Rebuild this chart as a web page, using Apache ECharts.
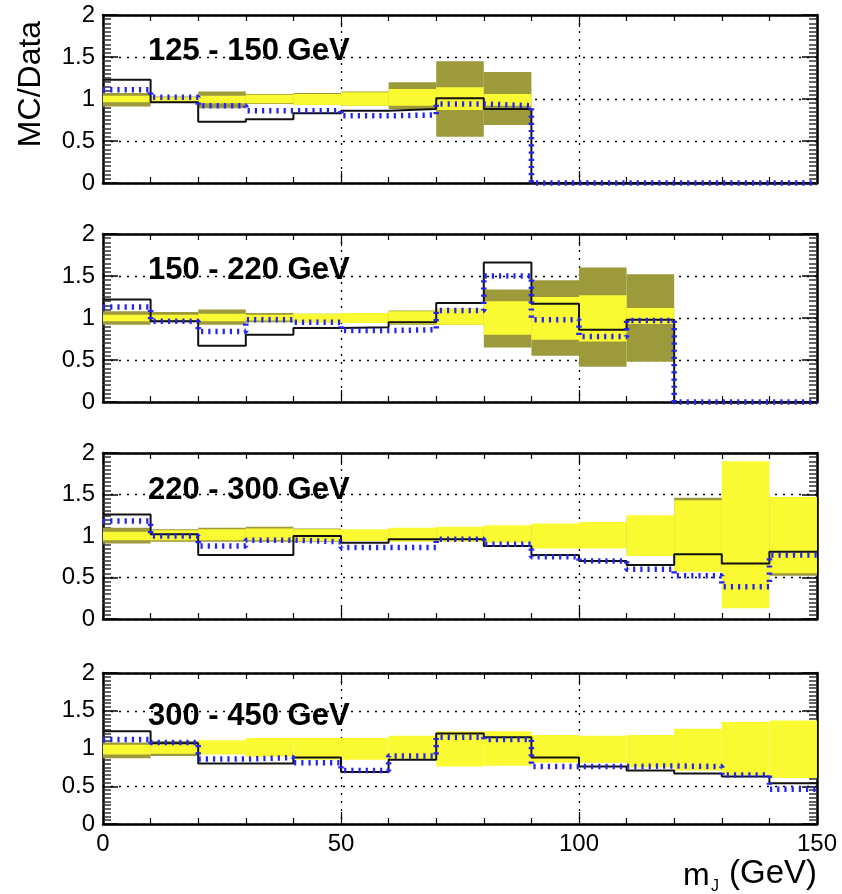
<!DOCTYPE html>
<html><head><meta charset="utf-8">
<script src="https://cdn.jsdelivr.net/npm/echarts@6/dist/echarts.min.js"></script>
<style>html,body{margin:0;padding:0;background:#fff}#c{width:842px;height:894px}</style>
</head><body><div id="c"></div>
<script>
// ---- data ----
const binEdges = [0,10,20,30,40,50,60,70,80,90,100,110,120,130,140,150];
const panelLabels = ['125 - 150 GeV', '150 - 220 GeV', '220 - 300 GeV', '300 - 450 GeV'];
const yAxisTitle = 'MC/Data';
const xAxisTitle = ['m', 'J', '(GeV)'];

// panel 1 : 125 - 150 GeV
const solidP1   = [1.23, 0.96, 0.73, 0.76, 0.83, 0.86, 0.88, 1.01, 0.88, 0, 0, 0, 0, 0, 0];
const dottedP1  = [1.11, 1.02, 0.92, 0.86, 0.86, 0.80, 0.81, 0.94, 0.92, 0, 0, 0, 0, 0, 0];
const innerLoP1 = [0.96, 0.97, 0.95, 0.95, 0.93, 0.92, 0.92, 0.87, 0.92, null, null, null, null, null, null];
const innerHiP1 = [1.04, 1.02, 1.04, 1.05, 1.06, 1.08, 1.12, 1.14, 1.06, null, null, null, null, null, null];
const outerLoP1 = [0.91, 0.96, 0.89, 0.94, 0.93, 0.92, 0.88, 0.55, 0.69, null, null, null, null, null, null];
const outerHiP1 = [1.07, 1.03, 1.09, 1.06, 1.07, 1.09, 1.20, 1.45, 1.32, null, null, null, null, null, null];

// panel 2 : 150 - 220 GeV
const solidP2   = [1.22, 0.96, 0.67, 0.80, 0.88, 0.89, 0.95, 1.18, 1.66, 1.17, 0.86, 0.98, 0, 0, 0];
const dottedP2  = [1.13, 0.96, 0.84, 0.98, 0.95, 0.85, 0.86, 1.09, 1.50, 0.98, 0.78, 0.97, 0, 0, 0];
const innerLoP2 = [0.96, 0.97, 0.96, 0.97, 0.95, 0.94, 0.93, 0.92, 0.80, 0.74, 0.72, 0.93, null, null, null];
const innerHiP2 = [1.04, 1.04, 1.05, 1.04, 1.05, 1.06, 1.08, 1.11, 1.20, 1.25, 1.27, 1.12, null, null, null];
const outerLoP2 = [0.92, 0.95, 0.92, 0.95, 0.95, 0.94, 0.92, 0.92, 0.65, 0.55, 0.42, 0.48, null, null, null];
const outerHiP2 = [1.08, 1.07, 1.10, 1.06, 1.05, 1.06, 1.09, 1.11, 1.34, 1.45, 1.60, 1.52, null, null, null];

// panel 3 : 220 - 300 GeV
const solidP3   = [1.26, 1.02, 0.77, 0.77, 1.00, 0.92, 0.96, 0.96, 0.88, 0.77, 0.70, 0.65, 0.78, 0.67, 0.81];
const dottedP3  = [1.18, 1.00, 0.88, 0.95, 0.93, 0.86, 0.86, 0.96, 0.90, 0.75, 0.70, 0.60, 0.52, 0.39, 0.77];
const innerLoP3 = [0.95, 0.95, 0.95, 0.95, 0.94, 0.94, 0.93, 0.93, 0.92, 0.85, 0.85, 0.76, 0.57, 0.13, 0.55];
const innerHiP3 = [1.05, 1.07, 1.08, 1.09, 1.08, 1.08, 1.10, 1.11, 1.13, 1.15, 1.17, 1.25, 1.43, 1.90, 1.47];
const outerLoP3 = [0.91, 0.93, 0.93, 0.93, 0.93, 0.94, 0.94, 0.94, 0.93, 0.86, 0.86, 0.77, 0.58, 0.50, 0.52];
const outerHiP3 = [1.10, 1.08, 1.10, 1.11, 1.09, 1.07, 1.09, 1.10, 1.12, 1.14, 1.16, 1.24, 1.46, 1.50, 1.45];

// panel 4 : 300 - 450 GeV
const solidP4   = [1.23, 1.07, 0.80, 0.80, 0.88, 0.69, 0.85, 1.20, 1.15, 0.88, 0.76, 0.71, 0.67, 0.63, 0.54];
const dottedP4  = [1.12, 1.08, 0.86, 0.88, 0.81, 0.71, 0.90, 1.15, 1.12, 0.76, 0.76, 0.77, 0.76, 0.65, 0.46];
const innerLoP4 = [0.92, 0.93, 0.92, 0.89, 0.85, 0.85, 0.85, 0.76, 0.77, 0.81, 0.81, 0.75, 0.71, 0.65, 0.61];
const innerHiP4 = [1.05, 1.07, 1.11, 1.14, 1.14, 1.14, 1.17, 1.23, 1.23, 1.18, 1.17, 1.18, 1.26, 1.35, 1.37];
const outerLoP4 = [0.87, 0.90, null, null, null, null, null, null, null, null, null, null, null, null, null];
const outerHiP4 = [1.08, 1.10, null, null, null, null, null, null, null, null, null, null, null, null, null];

// ---- chart ----
const FONT = '"Liberation Sans", Arial, Helvetica, sans-serif';
const YELLOW = '#fafa33';
const OLIVE = '#9d9a3c';
const panels = [
  {solid: solidP1, dotted: dottedP1, iLo: innerLoP1, iHi: innerHiP1, oLo: outerLoP1, oHi: outerHiP1, top: 15, height: 168, labelY: 51},
  {solid: solidP2, dotted: dottedP2, iLo: innerLoP2, iHi: innerHiP2, oLo: outerLoP2, oHi: outerHiP2, top: 234, height: 168, labelY: 270},
  {solid: solidP3, dotted: dottedP3, iLo: innerLoP3, iHi: innerHiP3, oLo: outerLoP3, oHi: outerHiP3, top: 453, height: 166, labelY: 490},
  {solid: solidP4, dotted: dottedP4, iLo: innerLoP4, iHi: innerHiP4, oLo: outerLoP4, oHi: outerHiP4, top: 673, height: 151, labelY: 716}
];

function stepData(v) {
  const d = v.map((y, i) => [binEdges[i], y]);
  d.push([binEdges[binEdges.length - 1], v[v.length - 1]]);
  return d;
}
function bandData(lo, hi) {
  const d = [];
  for (let i = 0; i < lo.length; i++) {
    if (lo[i] != null && hi[i] != null) d.push([binEdges[i], binEdges[i + 1], lo[i], hi[i]]);
  }
  return d;
}
function bandSeries(k, lo, hi, color, z) {
  return {
    type: 'custom', xAxisIndex: 2 * k, yAxisIndex: 2 * k, silent: true, z: z,
    encode: {x: [0, 1], y: [2, 3]},
    data: bandData(lo, hi),
    renderItem: function (params, api) {
      const a = api.coord([api.value(0), api.value(3)]);
      const b = api.coord([api.value(1), api.value(2)]);
      return {type: 'rect', shape: {x: a[0], y: a[1], width: b[0] - a[0], height: b[1] - a[1]}, style: {fill: color}};
    }
  };
}

const grid = [], xAxis = [], yAxis = [], series = [], graphic = [];
const gridLine = {show: true, lineStyle: {color: '#000', width: 1.3, type: [2, 6]}};
const frameLine = {show: true, onZero: false, lineStyle: {color: '#000', width: 2.5}};

panels.forEach((p, k) => {
  grid.push({left: 103, top: p.top, width: 714, height: p.height});
  const last = k === panels.length - 1;
  const xBase = {
    type: 'value', gridIndex: k, min: 0, max: 150, interval: 50,
    axisLine: frameLine,
    axisTick: {show: true, inside: true, length: 12, lineStyle: {color: '#000', width: 1.2}},
    minorTick: {show: true, splitNumber: 5, length: 6, lineStyle: {color: '#000', width: 1.2}}
  };
  xAxis.push(Object.assign({}, xBase, {position: 'bottom', splitLine: gridLine,
    axisLabel: {show: last, fontSize: 24, color: '#000', fontFamily: FONT, margin: 8}}));
  xAxis.push(Object.assign({}, xBase, {position: 'top', splitLine: {show: false}, axisLabel: {show: false}}));
  const yBase = {
    type: 'value', gridIndex: k, min: 0, max: 2, interval: 0.5,
    axisLine: frameLine,
    axisTick: {show: true, inside: true, length: 15, lineStyle: {color: '#000', width: 1.5}},
    minorTick: {show: true, splitNumber: 10, length: 8, lineStyle: {color: '#333', width: 1.5}}
  };
  yAxis.push(Object.assign({}, yBase, {position: 'left', splitLine: gridLine,
    axisLabel: {show: true, fontSize: 24, color: '#000', fontFamily: FONT, margin: 8}}));
  yAxis.push(Object.assign({}, yBase, {position: 'right', splitLine: {show: false}, axisLabel: {show: false}}));

  series.push(bandSeries(k, p.oLo, p.oHi, OLIVE, 1));
  series.push(bandSeries(k, p.iLo, p.iHi, YELLOW, 2));
  series.push({type: 'line', xAxisIndex: 2 * k, yAxisIndex: 2 * k, step: 'end', symbol: 'none', clip: false, silent: true, z: 3,
    data: stepData(p.solid), lineStyle: {color: '#111', width: 2}});
  series.push({type: 'line', xAxisIndex: 2 * k, yAxisIndex: 2 * k, step: 'end', symbol: 'none', clip: false, silent: true, z: 4,
    data: stepData(p.dotted), lineStyle: {color: '#2424f0', width: 5.5, type: [2.2, 5]}});

  graphic.push({type: 'text', x: 148, y: p.labelY, z: 10, silent: true,
    style: {text: panelLabels[k], font: 'bold 31px ' + FONT, fill: '#000', verticalAlign: 'middle'}});
});

graphic.push({type: 'text', x: 31, y: 84, rotation: Math.PI / 2, silent: true,
  style: {text: yAxisTitle, font: '32px ' + FONT, fill: '#000', align: 'center', verticalAlign: 'middle'}});
graphic.push({type: 'text', x: 817, y: 874, silent: true,
  style: {text: xAxisTitle[2], font: '33px ' + FONT, fill: '#000', align: 'right', verticalAlign: 'middle'}});
graphic.push({type: 'text', x: 683, y: 876, silent: true,
  style: {text: xAxisTitle[0], font: '32px ' + FONT, fill: '#000', align: 'left', verticalAlign: 'middle'}});
graphic.push({type: 'text', x: 711, y: 887, silent: true,
  style: {text: xAxisTitle[1], font: '16px ' + FONT, fill: '#000', align: 'left', verticalAlign: 'middle'}});

const chart = echarts.init(document.getElementById('c'), null, {renderer: 'canvas'});
chart.setOption({animation: false, backgroundColor: '#fff', grid, xAxis, yAxis, series, graphic});
</script>
</body></html>
